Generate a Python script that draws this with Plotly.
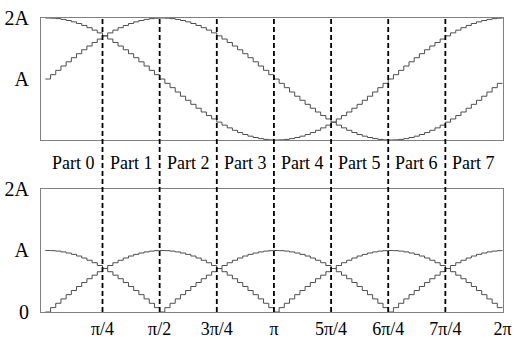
import math
import plotly.graph_objects as go

# ---- data (A = 1) : 88 samples over one period, 11 per part ----
N_STEPS = 88
step_x = [i * 2 * math.pi / N_STEPS for i in range(N_STEPS)] + [2 * math.pi]

top_cos = [2.000, 1.997, 1.990, 1.977, 1.959, 1.937, 1.910, 1.878, 1.841, 1.801, 1.756, 1.707,
           1.655, 1.599, 1.541, 1.479, 1.415, 1.349, 1.282, 1.213, 1.142, 1.071, 1.000,
           0.929, 0.858, 0.787, 0.718, 0.651, 0.585, 0.521, 0.459, 0.401, 0.345, 0.293, 0.244,
           0.199, 0.159, 0.122, 0.090, 0.063, 0.041, 0.023, 0.010, 0.003, 0.000,
           0.003, 0.010, 0.023, 0.041, 0.063, 0.090, 0.122, 0.159, 0.199, 0.244, 0.293, 0.345,
           0.401, 0.459, 0.521, 0.585, 0.651, 0.718, 0.787, 0.858, 0.929, 1.000,
           1.071, 1.142, 1.213, 1.282, 1.349, 1.415, 1.479, 1.541, 1.599, 1.655, 1.707, 1.756,
           1.801, 1.841, 1.878, 1.910, 1.937, 1.959, 1.977, 1.990, 1.997]

top_sin = [1.000, 1.071, 1.142, 1.213, 1.282, 1.349, 1.415, 1.479, 1.541, 1.599, 1.655, 1.707,
           1.756, 1.801, 1.841, 1.878, 1.910, 1.937, 1.959, 1.977, 1.990, 1.997,
           2.000, 1.997, 1.990, 1.977, 1.959, 1.937, 1.910, 1.878, 1.841, 1.801, 1.756, 1.707,
           1.655, 1.599, 1.541, 1.479, 1.415, 1.349, 1.282, 1.213, 1.142, 1.071,
           1.000, 0.929, 0.858, 0.787, 0.718, 0.651, 0.585, 0.521, 0.459, 0.401, 0.345, 0.293,
           0.244, 0.199, 0.159, 0.122, 0.090, 0.063, 0.041, 0.023, 0.010, 0.003,
           0.000, 0.003, 0.010, 0.023, 0.041, 0.063, 0.090, 0.122, 0.159, 0.199, 0.244, 0.293,
           0.345, 0.401, 0.459, 0.521, 0.585, 0.651, 0.718, 0.787, 0.858, 0.929]

bot_cos = [1.000, 0.997, 0.990, 0.977, 0.959, 0.937, 0.910, 0.878, 0.841, 0.801, 0.756, 0.707,
           0.655, 0.599, 0.541, 0.479, 0.415, 0.349, 0.282, 0.213, 0.142, 0.071,
           0.000, 0.071, 0.142, 0.213, 0.282, 0.349, 0.415, 0.479, 0.541, 0.599, 0.655, 0.707,
           0.756, 0.801, 0.841, 0.878, 0.910, 0.937, 0.959, 0.977, 0.990, 0.997,
           1.000, 0.997, 0.990, 0.977, 0.959, 0.937, 0.910, 0.878, 0.841, 0.801, 0.756, 0.707,
           0.655, 0.599, 0.541, 0.479, 0.415, 0.349, 0.282, 0.213, 0.142, 0.071,
           0.000, 0.071, 0.142, 0.213, 0.282, 0.349, 0.415, 0.479, 0.541, 0.599, 0.655, 0.707,
           0.756, 0.801, 0.841, 0.878, 0.910, 0.937, 0.959, 0.977, 0.990, 0.997]

bot_sin = [0.000, 0.071, 0.142, 0.213, 0.282, 0.349, 0.415, 0.479, 0.541, 0.599, 0.655, 0.707,
           0.756, 0.801, 0.841, 0.878, 0.910, 0.937, 0.959, 0.977, 0.990, 0.997,
           1.000, 0.997, 0.990, 0.977, 0.959, 0.937, 0.910, 0.878, 0.841, 0.801, 0.756, 0.707,
           0.655, 0.599, 0.541, 0.479, 0.415, 0.349, 0.282, 0.213, 0.142, 0.071,
           0.000, 0.071, 0.142, 0.213, 0.282, 0.349, 0.415, 0.479, 0.541, 0.599, 0.655, 0.707,
           0.756, 0.801, 0.841, 0.878, 0.910, 0.937, 0.959, 0.977, 0.990, 0.997,
           1.000, 0.997, 0.990, 0.977, 0.959, 0.937, 0.910, 0.878, 0.841, 0.801, 0.756, 0.707,
           0.655, 0.599, 0.541, 0.479, 0.415, 0.349, 0.282, 0.213, 0.142, 0.071]

part_labels = ["Part 0", "Part 1", "Part 2", "Part 3", "Part 4", "Part 5", "Part 6", "Part 7"]
divider_quarters = [1, 2, 3, 4, 5, 6, 7]
x_tick_quarters = [1, 2, 3, 4, 5, 6, 7, 8]
x_tick_text = ["π/4", "π/2", "3π/4", "π", "5π/4", "6π/4", "7π/4", "2π"]
top_y_vals = [1, 2]
top_y_text = ["A", "2A"]
bot_y_vals = [0, 1, 2]
bot_y_text = ["0", "A", "2A"]

FONT = "Liberation Serif"
LINE = "#4d4d4d"

fig = go.Figure()


def close(v):
    return v + [v[-1]]


for ys in (top_cos, top_sin):
    fig.add_trace(go.Scatter(x=step_x, y=close(ys), mode="lines", line_shape="hv",
                             line=dict(color=LINE, width=1), xaxis="x", yaxis="y",
                             showlegend=False, hoverinfo="skip"))
for ys in (bot_cos, bot_sin):
    fig.add_trace(go.Scatter(x=step_x, y=close(ys), mode="lines", line_shape="hv",
                             line=dict(color=LINE, width=1), xaxis="x2", yaxis="y2",
                             showlegend=False, hoverinfo="skip"))

for q in divider_quarters:
    fig.add_shape(type="line", xref="x", yref="paper", x0=q * math.pi / 4, x1=q * math.pi / 4,
                  y0=0, y1=1, line=dict(color="black", width=1.8, dash="5px,3px"), layer="above")

for k, lab in enumerate(part_labels):
    fig.add_annotation(x=(k + 0.5) * math.pi / 4, y=0.507, xref="x", yref="paper", text=lab,
                       showarrow=False, font=dict(family=FONT, size=18, color="black"),
                       xanchor="center", yanchor="middle")

XR = [-0.06, 6.29]
axis_common = dict(showline=True, mirror=True, linecolor="#808080", linewidth=1,
                   showgrid=False, zeroline=False, ticks="", automargin=False,
                   tickfont=dict(family=FONT, size=20, color="black"))

fig.update_layout(
    width=517, height=340,
    margin=dict(l=41, r=14, t=18, b=28),
    paper_bgcolor="white", plot_bgcolor="white",
    xaxis=dict(domain=[0, 1], anchor="y", range=XR, showticklabels=False, **axis_common),
    yaxis=dict(domain=[0.585, 1], anchor="x", range=[0, 2], tickvals=top_y_vals,
               ticktext=top_y_text, ticklabelstandoff=7, **axis_common),
    xaxis2=dict(domain=[0, 1], anchor="y2", range=XR,
                tickvals=[q * math.pi / 4 for q in x_tick_quarters], ticktext=x_tick_text,
                ticklabelstandoff=0, **axis_common),
    yaxis2=dict(domain=[0, 0.4184], anchor="x2", range=[0, 2], tickvals=bot_y_vals,
                ticktext=bot_y_text, ticklabelstandoff=7, **axis_common),
)
fig.update_layout(xaxis2_tickfont=dict(family=FONT, size=18, color="black"))

fig.write_html("out.html", config={"displayModeBar": False},
               post_script="document.body.style.margin='0';document.body.style.overflow='hidden';")
